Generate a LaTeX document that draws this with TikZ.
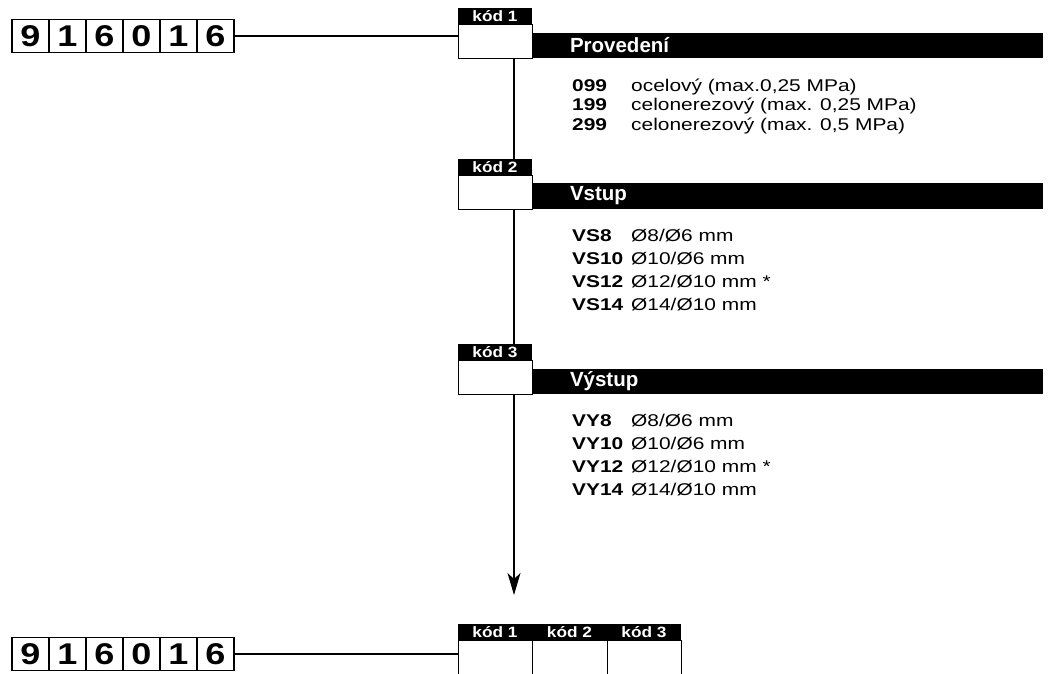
\documentclass[tikz,border=0pt]{standalone}
\usepackage{fontspec}
\setmainfont{Liberation Sans}
\newfontfamily\widefont[FakeStretch=1.23]{Liberation Sans}
\newfontfamily\tabfont[FakeStretch=1.15]{Liberation Sans}
\newfontfamily\digitfont[FakeStretch=1.2]{Liberation Sans}
\usetikzlibrary{arrows.meta,positioning}

\tikzset{
  digit/.style={draw, line width=1.2pt, outer sep=0pt, inner sep=0pt,
    minimum width=37pt, minimum height=33pt,
    font=\digitfont\fontsize{30}{30}\selectfont\bfseries},
  codetab/.style={fill=black, text=white, outer sep=0pt, inner sep=0pt,
    minimum width=74pt, minimum height=16pt,
    font=\tabfont\fontsize{15}{15}\selectfont\bfseries},
  codebox/.style={draw, line width=1pt, fill=white, outer sep=0pt, inner sep=0pt,
    minimum width=74pt, minimum height=34pt},
  headbar/.style={fill=black, text=white, anchor=south west, outer sep=0pt, inner sep=0pt,
    text width=511pt, align=left, minimum height=25pt,
    font=\fontsize{20.5}{20.5}\selectfont\bfseries},
  codetxt/.style={anchor=base west, inner sep=0pt, font=\widefont\fontsize{17}{17}\selectfont\bfseries},
  desctxt/.style={anchor=base west, inner sep=0pt, font=\widefont\fontsize{17}{17}\selectfont},
  wire/.style={line width=1.2pt}
}

\begin{document}
\begin{tikzpicture}[x=1pt, y=-1pt]
  \useasboundingbox (0, 0) rectangle (1049, 673);

  % top number
  \node[digit] (t1) at (30.5, 36) {9};
  \node[digit, right=0pt of t1] (t2) {1};
  \node[digit, right=0pt of t2] (t3) {6};
  \node[digit, right=0pt of t3] (t4) {0};
  \node[digit, right=0pt of t4] (t5) {1};
  \node[digit, right=0pt of t5] (t6) {6};

  % kod 1
  \node[codetab] (k1tab) at (495, 16) {kód 1};
  \node[codebox, below=0pt of k1tab] (k1box) {};
  \node[headbar] (k1bar) at (k1box.south east) {\hspace*{38pt}Provedení};
  \node[codetxt] (c099) at (572, 91) {099};
  \node[desctxt] (d099) at (631, 91) {ocelový (max.0,25 MPa)};
  \node[codetxt] (c199) at (572, 110.5) {199};
  \node[desctxt] (d199) at (631, 110.5) {celonerezový (max. 0,25 MPa)};
  \node[codetxt] (c299) at (572, 130) {299};
  \node[desctxt] (d299) at (631, 130) {celonerezový (max. 0,5 MPa)};

  % kod 2
  \node[codetab] (k2tab) at (495, 167) {kód 2};
  \node[codebox, below=0pt of k2tab] (k2box) {};
  \node[headbar, minimum height=26pt] (k2bar) at (k2box.south east) {\hspace*{38pt}Vstup};
  \node[codetxt] (cvs8) at (572, 241) {VS8};
  \node[desctxt] (dvs8) at (631, 241) {Ø8/Ø6 mm};
  \node[codetxt] (cvs10) at (572, 264) {VS10};
  \node[desctxt] (dvs10) at (631, 264) {Ø10/Ø6 mm};
  \node[codetxt] (cvs12) at (572, 287) {VS12};
  \node[desctxt] (dvs12) at (631, 287) {Ø12/Ø10 mm *};
  \node[codetxt] (cvs14) at (572, 310) {VS14};
  \node[desctxt] (dvs14) at (631, 310) {Ø14/Ø10 mm};

  % kod 3
  \node[codetab] (k3tab) at (495, 352) {kód 3};
  \node[codebox, below=0pt of k3tab] (k3box) {};
  \node[headbar] (k3bar) at (k3box.south east) {\hspace*{38pt}Výstup};
  \node[codetxt] (cvy8) at (572, 426) {VY8};
  \node[desctxt] (dvy8) at (631, 426) {Ø8/Ø6 mm};
  \node[codetxt] (cvy10) at (572, 449) {VY10};
  \node[desctxt] (dvy10) at (631, 449) {Ø10/Ø6 mm};
  \node[codetxt] (cvy12) at (572, 472) {VY12};
  \node[desctxt] (dvy12) at (631, 472) {Ø12/Ø10 mm *};
  \node[codetxt] (cvy14) at (572, 495) {VY14};
  \node[desctxt] (dvy14) at (631, 495) {Ø14/Ø10 mm};

  \coordinate (arrowtip) at (514, 595);

  % bottom number
  \node[digit] (b1) at (30.5, 654) {9};
  \node[digit, right=0pt of b1] (b2) {1};
  \node[digit, right=0pt of b2] (b3) {6};
  \node[digit, right=0pt of b3] (b4) {0};
  \node[digit, right=0pt of b4] (b5) {1};
  \node[digit, right=0pt of b5] (b6) {6};

  \node[codetab] (s1tab) at (495, 632) {kód 1};
  \node[codetab, minimum width=75pt, right=0pt of s1tab] (s2tab) {kód 2};
  \node[codetab, right=0pt of s2tab] (s3tab) {kód 3};
  \node[codebox, minimum height=42pt, below=0pt of s1tab] (s1box) {};
  \node[codebox, minimum width=75pt, minimum height=42pt, below=0pt of s2tab] (s2box) {};
  \node[codebox, minimum height=42pt, below=0pt of s3tab] (s3box) {};

  \draw[wire] (t6.east) -- (t6.east -| k1box.west);
  \draw[wire] ([xshift=19pt]k1box.south) -- ([xshift=19pt]k2tab.north);
  \draw[wire] ([xshift=19pt]k2box.south) -- ([xshift=19pt]k3tab.north);
  \draw[wire, -{Stealth[length=22pt, width=13pt, inset=6pt]}] ([xshift=19pt]k3box.south) -- (arrowtip);
  \draw[wire] (b6.east) -- (b6.east -| s1box.west);
\end{tikzpicture}
\end{document}
